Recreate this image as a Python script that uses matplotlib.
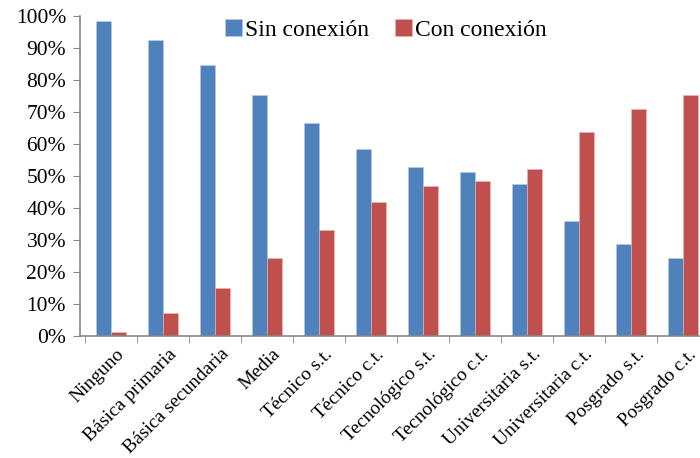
import numpy as np
import matplotlib
matplotlib.use('Agg')
import matplotlib.pyplot as plt
import matplotlib.transforms as mtransforms
from matplotlib.ticker import PercentFormatter

categories = ['Ninguno', 'Básica primaria', 'Básica secundaria', 'Media',
              'Técnico s.t.', 'Técnico c.t.', 'Tecnológico s.t.',
              'Tecnológico c.t.', 'Universitaria s.t.', 'Universitaria c.t.',
              'Posgrado s.t.', 'Posgrado c.t.']
sin_conexion = [98.5, 92.5, 84.8, 75.4, 66.7, 58.3, 52.9, 51.3, 47.5, 35.9, 28.8, 24.4]
con_conexion = [1.3, 7.3, 15.0, 24.4, 33.1, 41.9, 46.9, 48.5, 52.3, 63.9, 71.0, 75.4]

blue = '#4F81BD'
red = '#C0504D'
grey = '#868686'

plt.rcParams['font.family'] = ['Liberation Serif', 'DejaVu Serif']

fig = plt.figure(figsize=(7, 4.58), dpi=100)
ax = fig.add_axes([80 / 700, 122 / 458, 620 / 700, 320 / 458])

x = np.arange(len(categories))
w = 0.29
ax.bar(x - w / 2, sin_conexion, w, color=blue, edgecolor='#B9CDE5',
       linewidth=0.4, label='Sin conexión')
ax.bar(x + w / 2, con_conexion, w, color=red, edgecolor='#E6B9B8',
       linewidth=0.4, label='Con conexión')

ax.set_xlim(-0.596, 11.33)
ax.set_ylim(0, 100)
ax.set_yticks(np.arange(0, 101, 10))
ax.yaxis.set_major_formatter(PercentFormatter(decimals=0))

# labels sit under the groups, tick marks between them
ax.set_xticks(x)
ax.set_xticklabels(categories, rotation=45, ha='right', rotation_mode='anchor')
ax.set_xticks(np.arange(-0.5, len(categories) - 0.5), minor=True)
ax.tick_params(axis='x', which='major', length=0, pad=7, labelsize=14)
ax.tick_params(axis='x', which='minor', length=5, color=grey, direction='out')
ax.tick_params(axis='y', length=5, color=grey, direction='out', labelsize=15.5, pad=5)

shift = mtransforms.ScaledTranslation(5 / 100, 0, fig.dpi_scale_trans)
for lab in ax.get_xticklabels():
    lab.set_transform(lab.get_transform() + shift)

for side in ('top', 'right'):
    ax.spines[side].set_visible(False)
for side in ('left', 'bottom'):
    ax.spines[side].set_color(grey)
    ax.spines[side].set_linewidth(1.2)

fig.legend(loc='center', bbox_to_anchor=(386 / 700, 1 - 30 / 458), ncol=2,
           frameon=False, fontsize=17, handlelength=0.7, handleheight=0.7,
           handletextpad=0.15, columnspacing=1.1)

fig.savefig('out.png', dpi=100)
